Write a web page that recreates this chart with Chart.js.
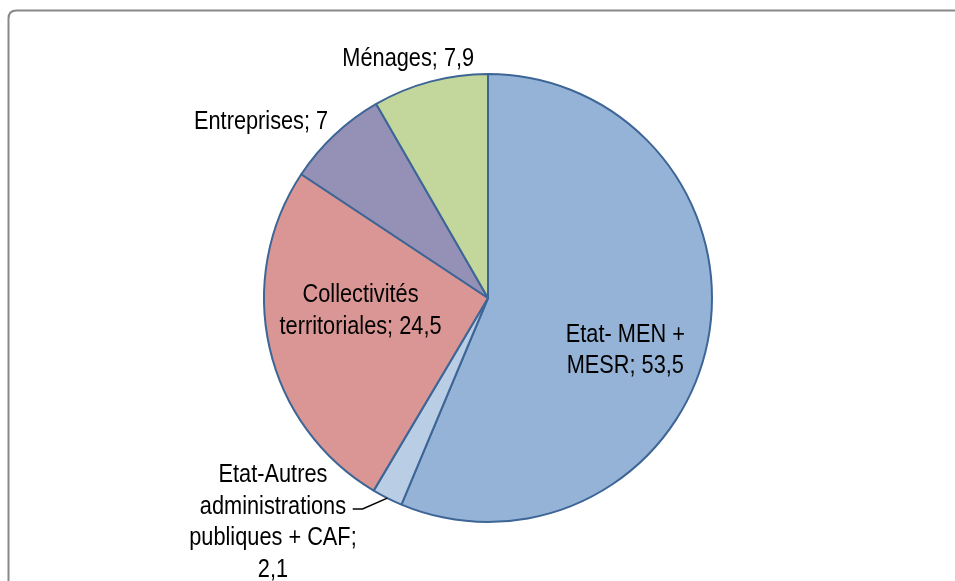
<!DOCTYPE html>
<html>
<head>
<meta charset="utf-8">
<script src="https://cdn.jsdelivr.net/npm/chart.js@4/dist/chart.umd.min.js"></script>
<style>
  html, body { margin: 0; padding: 0; background: #fff; }
  #wrap { width: 955px; height: 581px; position: relative; }
</style>
</head>
<body>
<div id="wrap"><canvas id="pie"></canvas></div>
<script>
// financement, en %
const categories = [
  ["Etat- MEN +", "MESR; 53,5"],
  ["Etat-Autres", "administrations", "publiques + CAF;", "2,1"],
  ["Collectivités", "territoriales; 24,5"],
  ["Entreprises; 7"],
  ["Ménages; 7,9"]
];
const values = [53.5, 2.1, 24.5, 7, 7.9];
const colors = ["#95b3d7", "#b9cde5", "#d99694", "#9490b6", "#c3d69b"];

// where each label sits, relative to pie centre, in radius units (first baseline)
const labelAnchors = [[0.613, 0.196], [-0.96, 0.822], [-0.569, 0.018], [-1.013, -0.756], [-0.356, -1.036]];

const framePlugin = {
  id: "frame",
  beforeDraw(chart) {
    const c = chart.ctx;
    c.save();
    c.strokeStyle = "#898989";
    c.lineWidth = 2;
    const x = 8.5, y = 10.5, w = chart.width + 30, h = chart.height + 30, r = 8;
    c.beginPath();
    c.moveTo(x + r, y);
    c.lineTo(x + w, y);
    c.lineTo(x + w, y + h);
    c.lineTo(x, y + h);
    c.lineTo(x, y + r);
    c.quadraticCurveTo(x, y, x + r, y);
    c.stroke();
    c.restore();
  }
};

const labelPlugin = {
  id: "pieLabels",
  afterDatasetsDraw(chart) {
    const c = chart.ctx;
    const arcs = chart.getDatasetMeta(0).data;
    const cx = arcs[0].x, cy = arcs[0].y, R = arcs[0].outerRadius;
    c.save();
    c.fillStyle = "#000";
    c.font = "25px 'Liberation Sans', Arial, sans-serif";
    c.textAlign = "center";
    c.textBaseline = "alphabetic";
    categories.forEach((lines, i) => {
      const lx = cx + labelAnchors[i][0] * R;
      const ly = cy + labelAnchors[i][1] * R;
      lines.forEach((t, j) => {
        c.save();
        c.translate(lx, ly + j * 31.5);
        c.scale(0.87, 1);
        c.fillText(t, 0, 0);
        c.restore();
      });
    });
    // leader line for the small slice
    const a = arcs[1];
    const mid = (a.startAngle + a.endAngle) / 2;
    c.strokeStyle = "#000";
    c.lineWidth = 1.5;
    c.beginPath();
    c.moveTo(cx - 0.604 * R, cy + 0.942 * R);
    c.lineTo(cx - 0.56 * R, cy + 0.942 * R);
    c.lineTo(cx + Math.cos(mid) * R, cy + Math.sin(mid) * R);
    c.stroke();
    c.restore();
  }
};

new Chart(document.getElementById("pie"), {
  type: "pie",
  data: {
    labels: categories.map(l => l.join(" ")),
    datasets: [{
      data: values,
      backgroundColor: colors,
      borderColor: "#3d6596",
      borderWidth: 2
    }]
  },
  options: {
    responsive: true,
    maintainAspectRatio: false,
    animation: false,
    layout: { padding: { left: 263, right: 242, top: 73, bottom: 58 } },
    plugins: {
      legend: { display: false },
      tooltip: { enabled: false }
    }
  },
  plugins: [framePlugin, labelPlugin]
});
</script>
</body>
</html>
